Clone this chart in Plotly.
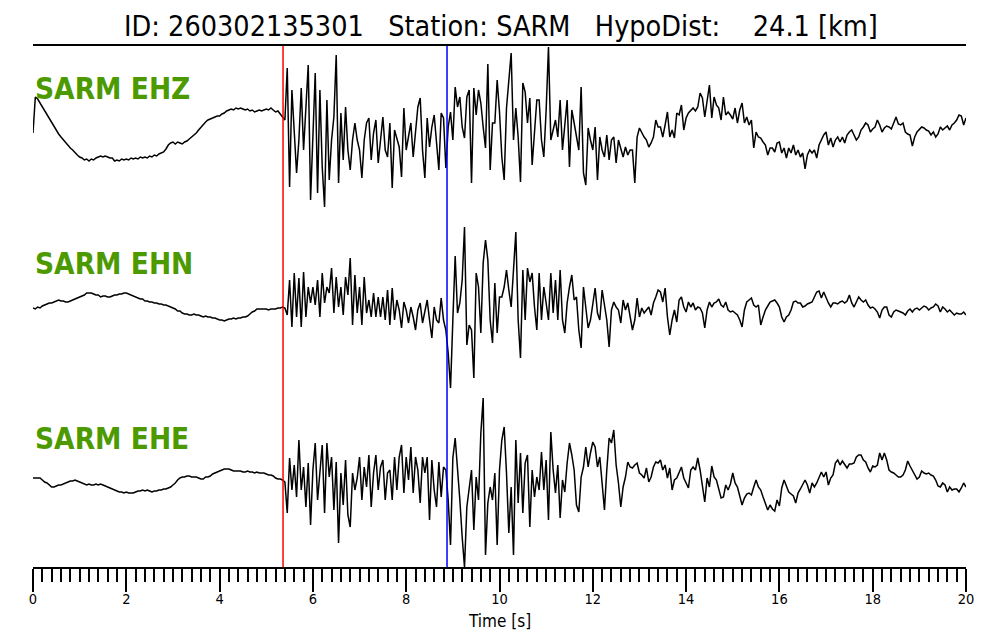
import numpy as np
import plotly.graph_objects as go

DT = 0.05  # s between samples
P_TIME = 5.36
S_TIME = 8.875
TITLE = "ID: 260302135301   Station: SARM   HypoDist:    24.1 [km]"
X_TICKS = [0, 2, 4, 6, 8, 10, 12, 14, 16, 18, 20]
X_TICK_LABELS = [str(v) for v in X_TICKS]

# ---- EHZ amplitudes (arbitrary counts) ----
EHZ_PRE = [-3,33,31,27,24,20,16,12,8,4,
           0,-4,-7,-10,-13,-15,-18,-20,-23,-25,
           -27,-28,-30,-29,-31,-29,-30,-28,-27,-26,
           -27,-26,-27,-28,-28,-31,-30,-31,-29,-30,
           -29,-30,-28,-29,-28,-29,-27,-28,-27,-28,
           -26,-27,-25,-26,-24,-23,-22,-19,-15,-13,
           -12,-14,-12,-13,-14,-12,-11,-9,-7,-5,
           -3,0,3,6,8,10,11,12,13,14,
           14,16,17,19,20,21,20,22,21,22,
           21,20,21,19,20,18,19,20,19,20,
           21,20,22,20,18,19,16,13]
EHZ_P = [10,62,-57,40,3,-43,-10,42,-20,23,65,-70,-10,57,-63,40,-37,-77,30,-50,
         -10,13,75,-53,17,-30,23,-20]
EHZ_S = [-40,-10,7,-10,-20,-48,-10,7,12,-30,
         -3,10,-33,-7,13,-20,-27,7,-58,0,
         -10,-17,-47,22,-20,-7,7,-27,-3,23,
         32,-20,-48,12,-17,3,15,-10,-40,17,
         12,-38,3,18,-10,43,23,33,3,-8,
         33,40,-53,42,15,40,27,3,-18,66,
         -40,7,7,50,18,-27,-50,22,50,77,
         -10,22,-7,-52,47,38,7,32,-35,3,
         30,30,-10,-27,20,83,-10,0,10,-7,
         30,-20,3,30,-37,20,7,-7,-20,43,
         -43,-55,2,-10,-20,3,-50,-7,-20,-27,
         -5,-30,-10,-7,-33,-10,-20,-27,-17,-25,
         -20,-20,-53,-7,2,-3,-7,-10,-17,-13,
         -7,10,3]
EHZ_TAIL = [3,-7,5,18,-7,0,-8,17,15,25,
            0,12,17,20,22,19,23,37,32,13,
            30,45,12,33,25,22,10,33,15,18,
            15,11,22,7,20,27,7,13,5,10,
            -18,-2,-7,-8,-12,-15,-25,-18,-18,-22,
            -13,-12,-23,-18,-28,-18,-23,-15,-25,-20,
            -27,-23,-39,-25,-20,-23,-20,-28,-15,-10,
            -5,-2,-15,-8,-17,-10,-7,-12,-7,-13,
            -5,-2,0,-5,-10,-7,0,3,7,5,
            -2,1,3,10,5,-2,2,4,3,1,
            7,13,6,5,7,-2,-4,-5,-16,-7,
            -2,1,3,2,0,-1,-5,-2,-7,-4,
            3,0,2,4,0,5,7,10,15,14,
            5,12]

# ---- EHN ----
EHN_PRE = [-3,-4,-2,-3,-1,0,1,2,2,3,
           4,5,4,4,3,3,4,5,6,7,
           8,9,10,12,12,12,11,10,10,8,
           9,9,8,8,9,10,10,11,11,12,
           12,11,10,9,8,7,6,6,4,4,
           3,3,2,2,1,1,0,0,-1,-2,
           -3,-4,-6,-6,-8,-9,-9,-10,-10,-9,
           -10,-10,-11,-12,-11,-12,-12,-13,-13,-14,
           -15,-15,-16,-15,-14,-14,-13,-14,-13,-13,
           -12,-12,-11,-9,-7,-6,-4,-4,-4,-4,
           -4,-5,-4,-4,-4,-3,-3,-2]
EHN_P = [-3,-10,25,-22,32,-12,27,-22,33,-12,18,2,18,0,25,-12,32,2,18,12,
         37,-8,28,-2,18,-10,28,10]
EHN_S = [47,-20,30,-8,18,-20,28,-8,5,-12,
         12,-12,8,-12,8,-15,15,-20,17,-15,
         5,-5,-23,3,-5,-18,-2,-12,-25,-5,
         2,-18,-8,5,-15,-33,-2,-15,-18,7,
         -15,-25,-48,-83,-15,49,-8,2,25,78,
         -40,-20,-25,-73,32,18,-28,42,65,45,
         -15,-38,22,-28,8,8,18,35,15,-2,
         35,73,-15,-53,35,-15,37,23,32,-2,
         -25,32,-15,18,2,-15,32,-8,25,-15,
         35,-15,-28,2,18,30,5,8,-25,-43,
         18,-5,-23,-15,2,17,-8,-15,15,2,
         -15,-42,-5,3,-2,-5,-18,5,-5,2,
         -12,-25,-15,7,-12,-3,-8,-5,-2,-10,
         2,8,15]
EHN_TAIL = [13,3,17,-12,-30,-15,-5,-17,5,8,
            -2,-7,3,-2,2,-5,-2,-3,-8,-23,
            -5,3,-2,2,3,6,0,-2,3,-5,
            -7,-6,-8,-10,-15,-22,-5,3,5,7,
            0,-2,0,-20,-12,-5,-1,3,4,5,
            2,-2,-12,-17,-12,-10,-5,3,4,2,
            2,-2,-1,1,2,3,8,13,14,7,
            13,7,2,-2,2,2,1,3,4,2,
            4,10,2,-2,3,8,5,3,5,0,
            -3,-2,-4,-7,-13,-5,-2,-2,-10,-12,
            -7,-5,-6,-7,-8,-10,-6,-4,-7,-4,
            -3,-5,-3,-1,-2,-5,-3,-2,1,-1,
            -7,-2,-4,-7,-5,-8,-10,-8,-9,-9,
            -7,-10]

# ---- EHE ----
EHE_PRE = [2,2,2,2,0,-2,-3,-5,-7,-7,
           -6,-5,-5,-4,-3,-2,-1,-1,0,-1,
           -2,-3,-4,-5,-4,-5,-5,-4,-5,-4,
           -5,-6,-7,-8,-9,-10,-11,-12,-12,-13,
           -12,-13,-13,-13,-12,-11,-11,-10,-11,-10,
           -11,-12,-11,-11,-10,-10,-9,-9,-8,-7,
           -5,-3,0,2,3,3,4,4,3,3,
           3,2,1,1,3,3,4,6,7,8,
           9,10,11,11,11,10,9,9,9,9,
           8,8,9,8,8,7,8,7,7,7,
           6,5,5,4,2,1,1,0]
EHE_P = [-2,-33,22,-10,15,-17,40,-10,13,-27,17,-45,10,37,-20,7,35,-33,37,3,
         23,-30,18,-63,7,-25,20,-35]
EHE_S = [-47,7,-10,2,23,-20,13,-7,25,-27,
         7,25,-10,13,20,-20,7,10,-20,23,
         -10,23,35,-13,23,0,33,-13,23,10,
         -23,23,7,23,-40,20,-10,-27,18,-17,
         13,10,-20,-65,22,42,13,-20,-57,-87,
         -27,-10,10,-50,3,-20,47,82,-75,-23,
         -7,-20,7,-65,10,40,53,7,-53,-7,
         -75,40,-23,27,-33,17,25,-47,10,-17,
         3,-10,28,-10,20,-40,48,10,-13,15,
         -38,0,-12,17,37,25,10,-25,-32,3,
         13,33,13,27,38,33,13,23,-7,-30,
         10,42,37,50,15,-3,-27,-7,3,18,
         13,12,15,17,7,5,2,12,-2,3,
         13,18,17]
EHE_TAIL = [20,10,15,2,12,-10,0,2,7,13,
            2,-3,-8,10,13,10,22,10,-7,-22,
            2,-7,14,3,0,-10,-18,-17,-5,-10,
            -4,7,-3,-7,-17,-25,-18,-14,-13,-15,
            -7,0,-7,-10,-17,-23,-30,-25,-29,-31,
            -20,-26,-8,0,-7,-12,-14,-16,-23,-13,
            -9,-5,0,-5,-13,-3,-7,-3,3,8,
            3,8,-5,2,5,17,20,15,19,16,
            12,16,16,17,23,25,25,20,18,12,
            8,14,13,15,27,20,27,20,10,8,
            7,5,3,3,5,10,19,14,10,5,
            1,3,9,7,6,7,5,4,0,-6,
            -7,-3,-5,-12,-7,-10,-9,-9,-12,-8,
            -3,-7]

CHANNELS = ["SARM EHZ", "SARM EHN", "SARM EHE"]
OFFSETS = [437, 262, 87]
SERIES = [EHZ_PRE + EHZ_P + EHZ_S + EHZ_TAIL,
          EHN_PRE + EHN_P + EHN_S + EHN_TAIL,
          EHE_PRE + EHE_P + EHE_S + EHE_TAIL]

LABEL_RISE = 41
FONT = "DejaVu Sans Condensed, DejaVu Sans, sans-serif"
GREEN = "#4c9a00"

fig = go.Figure()
for name, off, vals in zip(CHANNELS, OFFSETS, SERIES):
    v = np.asarray(vals, dtype=float)
    t = np.arange(len(v)) * DT
    fig.add_trace(go.Scatter(x=t, y=v + off, mode="lines",
                             line=dict(color="black", width=1.5),
                             name=name, showlegend=False, hoverinfo="skip"))
    fig.add_annotation(x=0, xref="paper", xanchor="left", y=off + LABEL_RISE,
                       yref="y", yanchor="middle", text="<b>%s</b>" % name,
                       showarrow=False,
                       font=dict(family=FONT, size=29.5, color=GREEN))

fig.add_shape(type="line", x0=P_TIME, x1=P_TIME, xref="x", y0=0, y1=1, yref="paper",
              line=dict(color="red", width=1.5))
fig.add_shape(type="line", x0=S_TIME, x1=S_TIME, xref="x", y0=0, y1=1, yref="paper",
              line=dict(color="blue", width=1.5))

fig.add_annotation(x=0.502, xref="paper", y=1.038, yref="paper", yanchor="middle",
                   text=TITLE, showarrow=False,
                   font=dict(family=FONT, size=28.5, color="black"))
fig.add_annotation(x=0.5, xref="paper", y=-0.103, yref="paper", yanchor="middle",
                   text="Time [s]", showarrow=False,
                   font=dict(family=FONT, size=17, color="black"))

# page body has an 8px margin, so the plot area is placed accordingly
fig.update_layout(
    width=1000, height=640,
    margin=dict(l=25, r=42, t=38, b=81),
    paper_bgcolor="white", plot_bgcolor="white",
    xaxis=dict(range=[0, 20], showgrid=False, zeroline=False,
               showline=True, linecolor="black", linewidth=2, mirror=True,
               ticks="outside", ticklen=23, tickwidth=2, tickcolor="black",
               tickvals=X_TICKS, ticktext=X_TICK_LABELS, ticklabelstandoff=-5,
               tickfont=dict(family=FONT, size=14.5, color="black"),
               minor=dict(ticks="outside", ticklen=13, tickwidth=2,
                          tickcolor="black", dtick=0.2, tick0=0, showgrid=False)),
    yaxis=dict(range=[0, 521], visible=False, fixedrange=True),
)

fig.write_html("out.html")
